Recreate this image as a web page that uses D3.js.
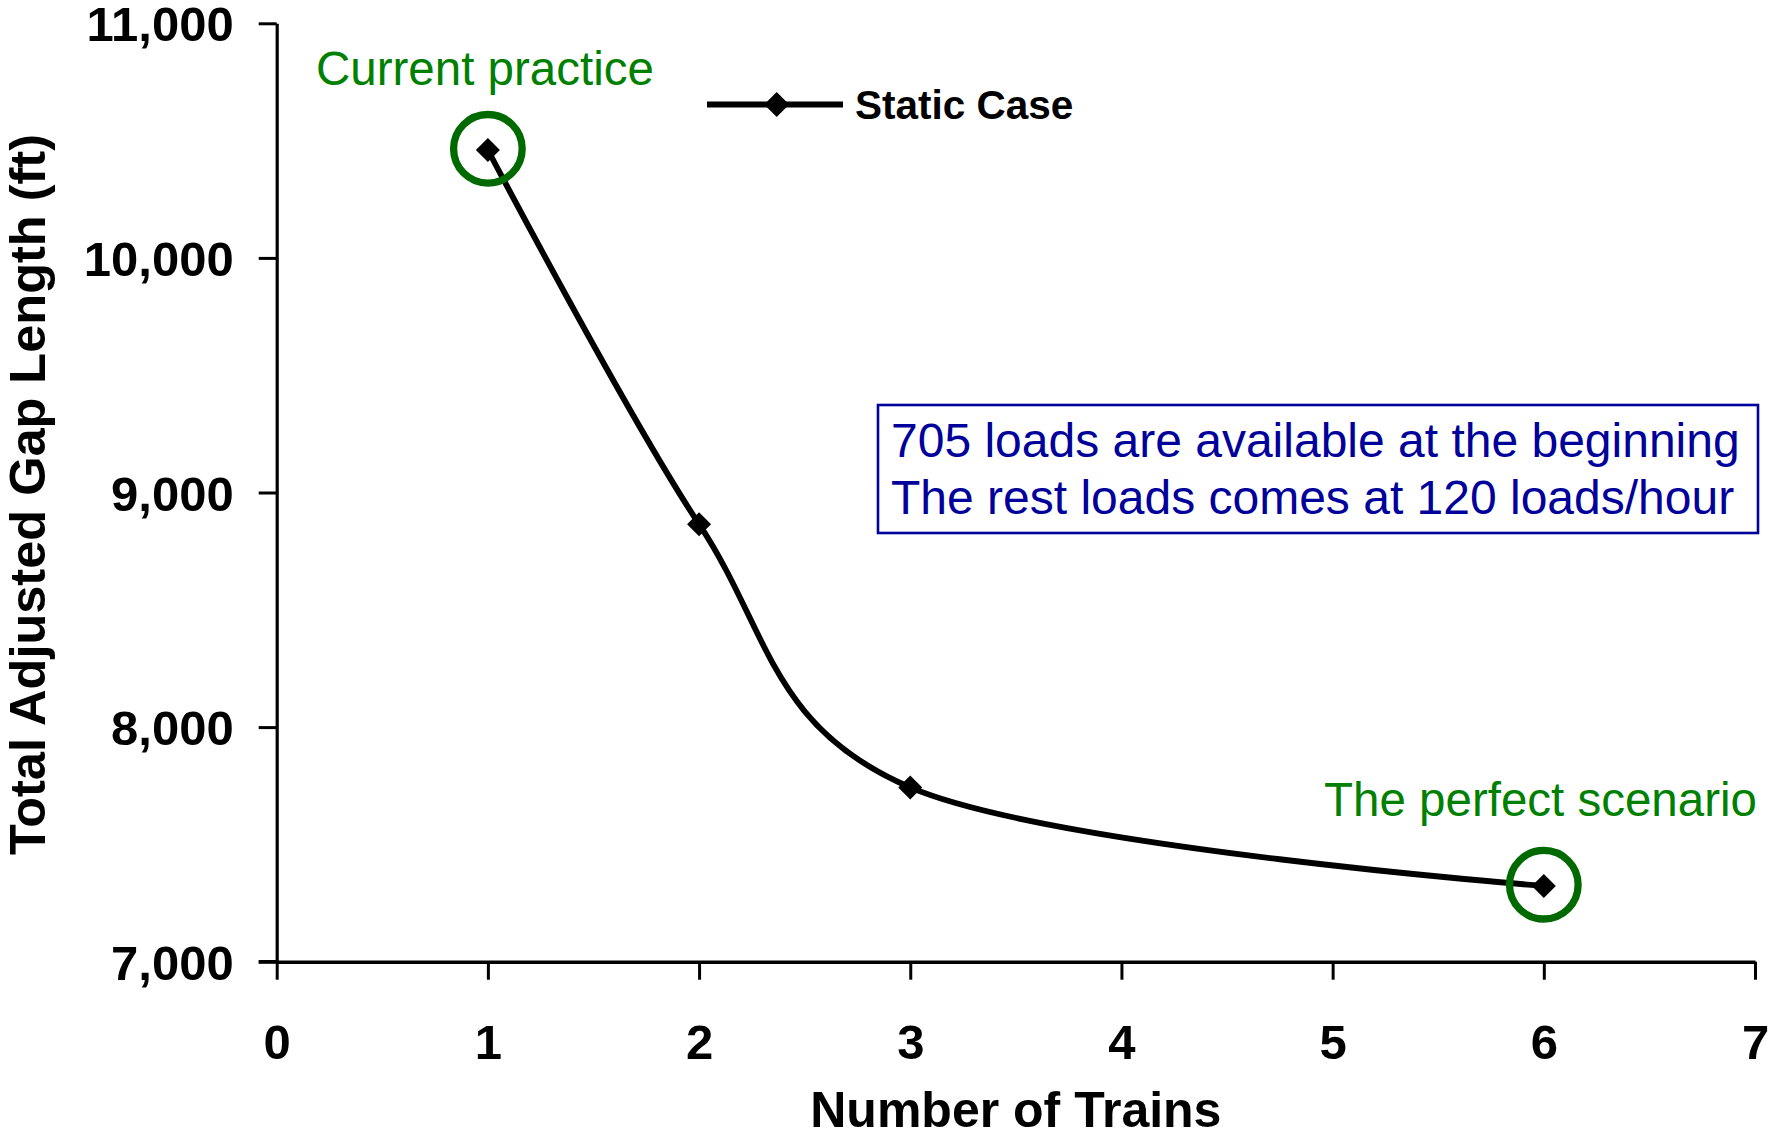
<!DOCTYPE html>
<html>
<head>
<meta charset="utf-8">
<script src="https://cdn.jsdelivr.net/npm/d3@7"></script>
<style>
  html, body { margin: 0; padding: 0; background: #fff; }
  svg { display: block; font-family: "Liberation Sans", Arial, sans-serif; }
</style>
</head>
<body>
<svg id="chart" width="1768" height="1139"></svg>
<script>
// Static case: total adjusted gap length by number of trains
const trains = [1, 2, 3, 6];
const gapLength = [10460, 8865, 7743, 7323];

const xTickValues = [0, 1, 2, 3, 4, 5, 6, 7];
const yTickValues = [7000, 8000, 9000, 10000, 11000];

const xTitle = "Number of Trains";
const yTitle = "Total Adjusted Gap Length (ft)";
const seriesName = "Static Case";

const highlightTrains = [1, 6];
const highlightLabels = ["Current practice", "The perfect scenario"];
const noteLines = [
  "705 loads are available at the beginning",
  "The rest loads comes at 120 loads/hour"
];

const svg = d3.select("#chart");
const margin = { left: 276.7, right: 13, top: 23.3, bottom: 177.3 };
const W = 1768, H = 1139;

const x = d3.scaleLinear().domain([0, 7]).range([margin.left, W - margin.right]);
const y = d3.scaleLinear().domain([7000, 11000]).range([H - margin.bottom, margin.top]);

const points = trains.map((t, i) => ({ t, v: gapLength[i] }));

// Axes
const yAxis = d3.axisLeft(y)
  .tickValues(yTickValues)
  .tickFormat(d3.format(","))
  .tickSize(18)
  .tickSizeOuter(0)
  .tickPadding(25);

const gy = svg.append("g")
  .attr("transform", `translate(${margin.left},0)`)
  .call(yAxis);
gy.select(".domain").attr("stroke", "#000").attr("stroke-width", 3.2);
gy.selectAll(".tick line").attr("stroke", "#000").attr("stroke-width", 3);
gy.selectAll(".tick text")
  .attr("fill", "#000")
  .attr("font-size", 49)
  .attr("font-weight", "bold")
  .attr("dy", "0.36em");

const xAxis = d3.axisBottom(x)
  .tickValues(xTickValues)
  .tickFormat(d3.format("d"))
  .tickSize(18)
  .tickSizeOuter(0)
  .tickPadding(45);

const gx = svg.append("g")
  .attr("transform", `translate(0,${y(7000)})`)
  .call(xAxis);
gx.select(".domain").attr("stroke", "#000").attr("stroke-width", 3.4);
gx.selectAll(".tick line").attr("stroke", "#000").attr("stroke-width", 3);
gx.selectAll(".tick text")
  .attr("fill", "#000")
  .attr("font-size", 49)
  .attr("font-weight", "bold");

// extend the x axis line slightly left to meet the 7,000 tick
svg.append("line")
  .attr("x1", margin.left - 18).attr("x2", margin.left)
  .attr("y1", y(7000)).attr("y2", y(7000))
  .attr("stroke", "#000").attr("stroke-width", 3.4);

// Axis titles
svg.append("text")
  .attr("x", (x(0) + x(7)) / 2)
  .attr("y", 1127)
  .attr("text-anchor", "middle")
  .attr("font-size", 50)
  .attr("font-weight", "bold")
  .text(xTitle);

svg.append("text")
  .attr("transform", `translate(45,${(y(7000) + y(11000)) / 2 + 2}) rotate(-90)`)
  .attr("text-anchor", "middle")
  .attr("font-size", 50.5)
  .attr("font-weight", "bold")
  .text(yTitle);

// Smoothed series line
const line = d3.line()
  .x(d => x(d.t))
  .y(d => y(d.v))
  .curve(d3.curveCardinal.tension(0));

svg.append("path")
  .datum(points)
  .attr("d", line)
  .attr("fill", "none")
  .attr("stroke", "#000")
  .attr("stroke-width", 5.8)
  .attr("stroke-linejoin", "round");

// Diamond markers
const diamond = (cx, cy, r) => `M${cx},${cy - r}L${cx + r},${cy}L${cx},${cy + r}L${cx - r},${cy}Z`;
svg.append("g").selectAll("path")
  .data(points)
  .join("path")
  .attr("d", d => diamond(x(d.t), y(d.v), 12))
  .attr("fill", "#000");

// Highlight rings and labels
const highlighted = points.filter(d => highlightTrains.includes(d.t));
svg.append("g").selectAll("circle")
  .data(highlighted)
  .join("circle")
  .attr("cx", d => x(d.t))
  .attr("cy", d => y(d.v) - 1.2)
  .attr("r", 34.3)
  .attr("fill", "none")
  .attr("stroke", "#006a00")
  .attr("stroke-width", 7.3);

svg.append("text")
  .attr("x", 316)
  .attr("y", 85)
  .attr("font-size", 47.5)
  .attr("fill", "#008000")
  .text(highlightLabels[0]);

svg.append("text")
  .attr("x", 1324)
  .attr("y", 816)
  .attr("font-size", 47.5)
  .attr("fill", "#008000")
  .text(highlightLabels[1]);

// Legend
const lg = svg.append("g");
lg.append("line")
  .attr("x1", 707).attr("x2", 843)
  .attr("y1", 104.5).attr("y2", 104.5)
  .attr("stroke", "#000").attr("stroke-width", 5.8);
lg.append("path")
  .attr("d", diamond(776.7, 104.5, 12.5))
  .attr("fill", "#000");
lg.append("text")
  .attr("x", 855)
  .attr("y", 118.5)
  .attr("font-size", 40.5)
  .attr("font-weight", "bold")
  .text(seriesName);

// Note box
const note = svg.append("g");
note.append("rect")
  .attr("x", 878).attr("y", 405)
  .attr("width", 880).attr("height", 128)
  .attr("fill", "#fff")
  .attr("stroke", "#00009c")
  .attr("stroke-width", 2.6);
note.selectAll("text")
  .data(noteLines)
  .join("text")
  .attr("x", 891)
  .attr("y", (d, i) => 457 + i * 57)
  .attr("font-size", 48)
  .attr("fill", "#00009a")
  .text(d => d);
</script>
</body>
</html>
